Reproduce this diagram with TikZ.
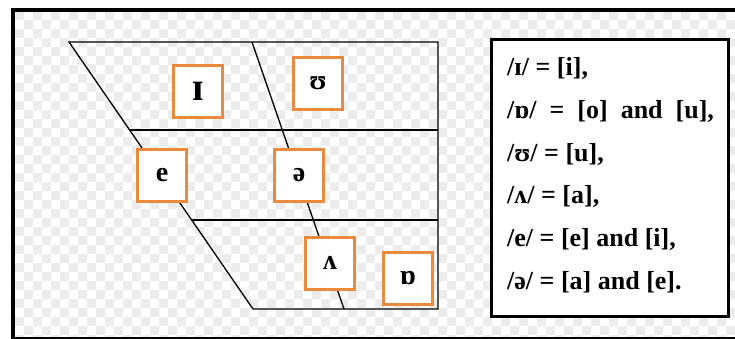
\documentclass[tikz,border=0pt]{standalone}
\usepackage{fontspec}
\setmainfont{Liberation Serif}
\definecolor{vowelorange}{HTML}{E98A3C}
\definecolor{checkgray}{HTML}{ECECEC}
\tikzset{
  chartline/.style={line width=1.3pt, black},
  vowel/.style={draw=vowelorange, line width=3pt, fill=white, minimum width=49pt, minimum height=52pt, inner sep=0pt, font=\bfseries\fontsize{28}{28}\selectfont},
  legendline/.style={anchor=base west, inner sep=0pt, font=\bfseries\fontsize{26}{26}\selectfont},
}
\begin{document}
\begin{tikzpicture}[x=1pt,y=-1pt]
\useasboundingbox (0,0) rectangle (735,338);
\fill[white] (0,0) rectangle (735,338);
% checkerboard background
\foreach \i in {0,...,40} \foreach \j in {0,...,18} {
  \fill[checkgray] (15+\i*18, 11+\j*18) rectangle +(9,9) (24+\i*18, 20+\j*18) rectangle +(9,9);
}
\draw[line width=4pt] (13,9.5) rectangle (742,339);
% chart
\coordinate (TL) at (69,42);
\coordinate (TM) at (252,42);
\coordinate (TR) at (438,42);
\coordinate (AL) at (129.6,130);
\coordinate (AR) at (438,130);
\coordinate (CL) at (191.7,220);
\coordinate (CR) at (438,220);
\coordinate (BL) at (253,309);
\coordinate (BM) at (344,309);
\coordinate (BR) at (438,309);
\draw[chartline] (TL) -- (BL) -- (BR) -- (TR) -- cycle;
\draw[chartline] (TM) -- (BM);
\draw[chartline] (AL) -- (AR);
\draw[chartline] (CL) -- (CR);
% vowels
\node[vowel] (i) at (198,91) {\fontsize{40}{40}\selectfont ɪ};
\node[vowel] (u) at (318,83) {ʊ};
\node[vowel] (e) at (162,175) {e};
\node[vowel] (schwa) at (299,175) {ə};
\node[vowel] (wedge) at (330,263) {ʌ};
\node[vowel] (o) at (408,278) {ɒ};
% legend
\node[draw, line width=3pt, fill=white, minimum width=237pt, minimum height=277pt, anchor=north west] (legend) at (490,38) {};
\node[legendline] (l1) at (507,75) {/ɪ/ = [i],};
\node[legendline] (l2) at (507,118) {/ɒ/ \ = \ [o] \ and \ [u],};
\node[legendline] (l3) at (507,161) {/ʊ/ = [u],};
\node[legendline] (l4) at (507,203) {/ʌ/ = [a],};
\node[legendline] (l5) at (507,246) {/e/ = [e] and [i],};
\node[legendline] (l6) at (507,289) {/ə/ = [a] and [e].};
\end{tikzpicture}
\end{document}
